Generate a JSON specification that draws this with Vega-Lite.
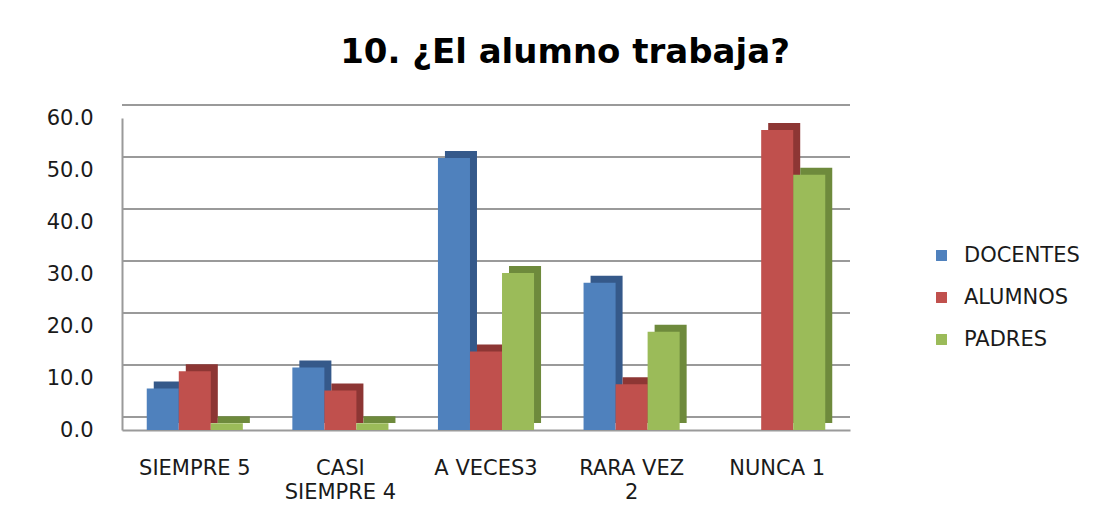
{
  "$schema": "https://vega.github.io/schema/vega-lite/v6.json",
  "autosize": "none",
  "width": 728,
  "height": 312,
  "padding": {"left": 122, "top": 118, "right": 270, "bottom": 88},
  "background": "white",
  "title": {"text": "10. ¿El alumno trabaja?", "font": "DejaVu Sans", "fontSize": 34, "fontWeight": "bold", "color": "#000000", "anchor": "middle", "dx": 79, "offset": 34},
  "datasets": {
    "bars": [
      {"cat": "SIEMPRE 5", "grupo": "DOCENTES", "valor": 8.0},
      {"cat": "SIEMPRE 5", "grupo": "ALUMNOS", "valor": 11.3},
      {"cat": "SIEMPRE 5", "grupo": "PADRES", "valor": 1.3},
      {"cat": "CASI SIEMPRE 4", "grupo": "DOCENTES", "valor": 12.0},
      {"cat": "CASI SIEMPRE 4", "grupo": "ALUMNOS", "valor": 7.6},
      {"cat": "CASI SIEMPRE 4", "grupo": "PADRES", "valor": 1.3},
      {"cat": "A VECES3", "grupo": "DOCENTES", "valor": 52.3},
      {"cat": "A VECES3", "grupo": "ALUMNOS", "valor": 15.1},
      {"cat": "A VECES3", "grupo": "PADRES", "valor": 30.2},
      {"cat": "RARA VEZ 2", "grupo": "DOCENTES", "valor": 28.3},
      {"cat": "RARA VEZ 2", "grupo": "ALUMNOS", "valor": 8.8},
      {"cat": "RARA VEZ 2", "grupo": "PADRES", "valor": 18.9},
      {"cat": "NUNCA 1", "grupo": "DOCENTES", "valor": 0.0},
      {"cat": "NUNCA 1", "grupo": "ALUMNOS", "valor": 57.7},
      {"cat": "NUNCA 1", "grupo": "PADRES", "valor": 49.1}
    ],
    "grid": [{"v": 0}, {"v": 10}, {"v": 20}, {"v": 30}, {"v": 40}, {"v": 50}, {"v": 60}]
  },
  "layer": [
    {
      "data": {"name": "grid"},
      "mark": {"type": "rule", "color": "#9a9a9a", "strokeWidth": 2, "yOffset": -13},
      "encoding": {"y": {"field": "v", "type": "quantitative", "scale": {"domain": [0, 60]}}}
    },
    {
      "data": {"name": "bars"},
      "mark": {"type": "bar", "yOffset": -7, "y2Offset": -7},
      "encoding": {
        "x": {"field": "cat", "type": "nominal", "sort": null, "scale": {"paddingInner": 0.34, "paddingOuter": 0.17}},
        "xOffset": {"field": "grupo", "type": "nominal", "sort": ["DOCENTES", "ALUMNOS", "PADRES"], "scale": {"range": [7, 103.1]}},
        "y": {"field": "valor", "type": "quantitative"},
        "color": {"field": "grupo", "type": "nominal", "sort": ["DOCENTES", "ALUMNOS", "PADRES"], "scale": {"domain": ["DOCENTES", "ALUMNOS", "PADRES"], "range": ["#35598a", "#8d3634", "#6e8a3c"]}, "legend": null}
      }
    },
    {
      "data": {"name": "bars"},
      "mark": {"type": "bar"},
      "encoding": {
        "x": {"field": "cat", "type": "nominal", "sort": null, "title": null,
              "axis": {"labelExpr": "datum.label == 'CASI SIEMPRE 4' ? ['CASI', 'SIEMPRE 4'] : datum.label == 'RARA VEZ 2' ? ['RARA VEZ', '2'] : datum.label", "labelAngle": 0, "labelAlign": "center", "labelBaseline": "top", "labelFont": "DejaVu Sans", "labelFontSize": 21, "labelColor": "#1a1a1a", "labelPadding": 27, "labelLineHeight": 24, "ticks": false, "domainColor": "#9a9a9a", "domainWidth": 2}},
        "xOffset": {"field": "grupo", "type": "nominal", "sort": ["DOCENTES", "ALUMNOS", "PADRES"]},
        "y": {"field": "valor", "type": "quantitative", "title": null, "scale": {"domain": [0, 60]},
              "axis": {"values": [0, 10, 20, 30, 40, 50, 60], "format": ".1f", "grid": false, "ticks": false, "labelFont": "DejaVu Sans", "labelFontSize": 21, "labelColor": "#1a1a1a", "labelPadding": 29, "domainColor": "#9a9a9a", "domainWidth": 2}},
        "color": {"field": "grupo", "type": "nominal", "sort": ["DOCENTES", "ALUMNOS", "PADRES"], "title": null,
                  "scale": {"domain": ["DOCENTES", "ALUMNOS", "PADRES"], "range": ["#4f81bd", "#c0504d", "#9bbb59"]},
                  "legend": {"orient": "none", "legendX": 809, "legendY": 127, "symbolType": "square", "symbolSize": 120, "labelFont": "DejaVu Sans", "labelFontSize": 21, "labelColor": "#1a1a1a", "rowPadding": 20, "labelOffset": 12, "symbolStrokeWidth": 0}}
      }
    }
  ],
  "resolve": {"scale": {"color": "independent", "xOffset": "independent"}},
  "config": {"view": {"stroke": null}, "axis": {"labelOverlap": false}}
}
